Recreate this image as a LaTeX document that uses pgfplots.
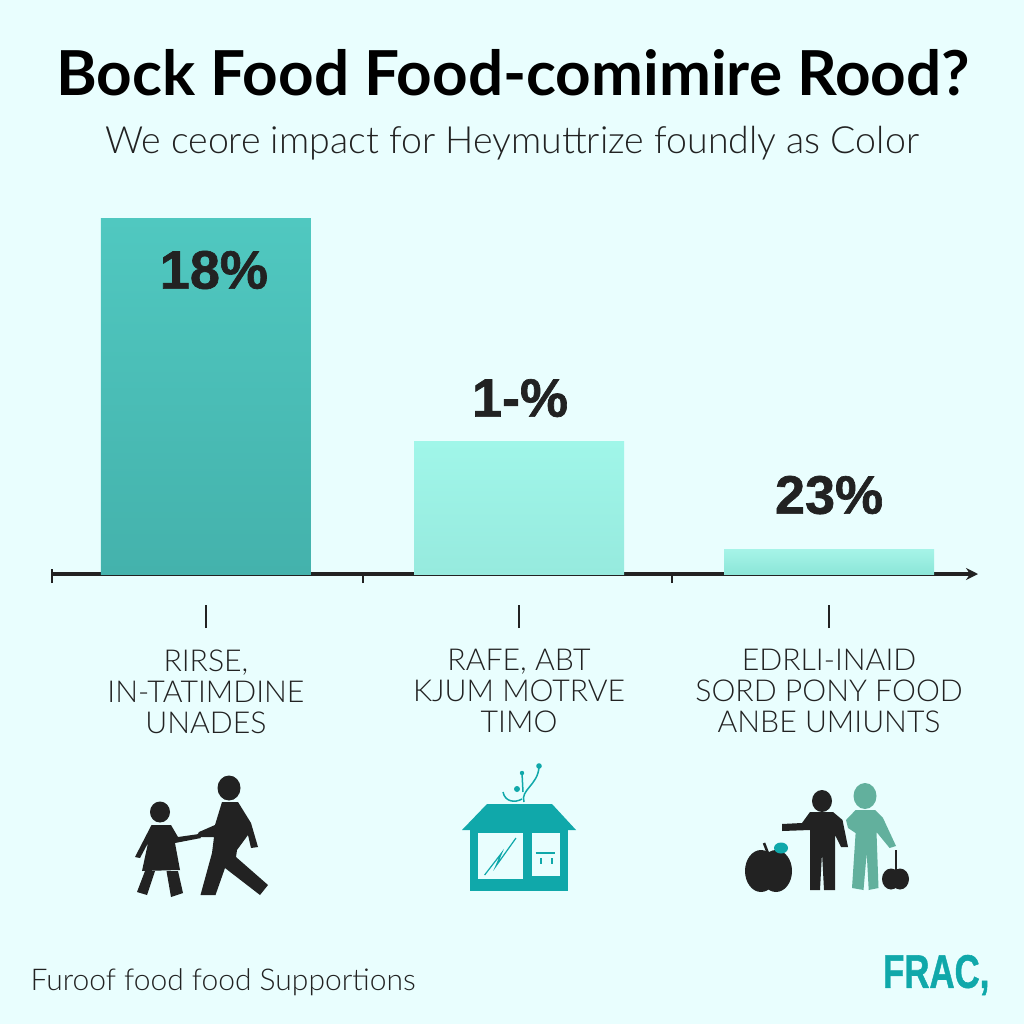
\documentclass[border=0pt]{standalone}
\usepackage{fontspec}
\usepackage{pgfplots}
\pgfplotsset{compat=1.18}
\usetikzlibrary{arrows.meta}
\setmainfont{Liberation Sans}
\newfontfamily\lightf{Lato Light}
\newfontfamily\titlef{Lato}
\newfontfamily\heavyf[FakeBold=1.2]{Liberation Sans Bold}
\definecolor{bg}{HTML}{E9FEFE}
\definecolor{ink}{HTML}{222222}
\definecolor{teal}{HTML}{10A8AA}
\definecolor{sage}{HTML}{62B09D}
\newcommand{\fs}[1]{\fontsize{#1}{#1}\selectfont}
\begin{document}
\begin{tikzpicture}
\useasboundingbox (0,0) rectangle (1024pt,-1024pt);
\fill[bg] (0,0) rectangle (1024pt,-1024pt);

\begin{axis}[
	at={(52pt,-574pt)}, anchor=south west,
	scale only axis,
	width=926pt, height=356pt,
	xmin=-0.494, xmax=2.478,
	ymin=0, ymax=18,
	clip=false,
	axis x line=bottom,
	axis y line=none,
	axis line style={ink, line width=3.2pt, -{Stealth[length=12pt,width=12pt]}},
	xtick={0,1.005,2},
	xticklabels={
		{RIRSE,\\IN-TATIMDINE\\UNADES},
		{RAFE, ABT\\KJUM MOTRVE\\TIMO},
		{EDRLI-INAID\\SORD PONY FOOD\\ANBE UMIUNTS}},
	xticklabel style={align=center, text=ink, yshift=-49pt,
		font=\lightf\fontsize{30.2}{31}\selectfont},
	minor xtick={-0.494,0.504,1.496},
	tick align=outside,
	major tick length=23pt,
	minor tick length=9pt,
	major tick style={ink, line width=2.8pt, yshift=-31pt},
	minor tick style={ink, line width=2.8pt},
	ybar, bar width=210pt, bar shift=0pt,
	ytick=\empty,
	nodes near coords style={anchor=center, text=ink, font=\heavyf\fs{54}},
]
\addplot[draw=none, shading=axis, top color={rgb,255:red,80;green,200;blue,192}, bottom color={rgb,255:red,68;green,178;blue,172},
	nodes near coords={18\%}, every node near coord/.append style={yshift=-52pt, xshift=8pt}]
	coordinates {(0,18)};
\addplot[draw=none, shading=axis, top color={rgb,255:red,160;green,246;blue,233}, bottom color={rgb,255:red,150;green,234;blue,222},
	nodes near coords={1-\%}, every node near coord/.append style={yshift=43pt, xshift=1pt}]
	coordinates {(1.005,6.72)};
\addplot[draw=none, shading=axis, top color={rgb,255:red,166;green,244;blue,232}, bottom color={rgb,255:red,140;green,230;blue,216},
	nodes near coords={23\%}, every node near coord/.append style={yshift=54pt}]
	coordinates {(2,1.26)};
\end{axis}

\begin{scope}[x=1pt,y=-1pt]
% title block
\node[anchor=center, text=black, font=\titlef\bfseries\fs{62}] at (513,73) {Bock Food Food-comimire Rood?};
\node[anchor=center, text=ink, font=\lightf\fs{37.5}] at (512,143) {We ceore impact for Heymuttrize foundly as Color};
\node[anchor=west, text=ink, font=\lightf\fs{30}] at (27,982) {Furoof food food Supportions};
\node[anchor=east, text=teal, font=\heavyf\fs{47}, xscale=.74] at (992,975) {FRAC,};

% left end cap of the axis
\draw[ink, line width=2.8pt] (52,569) -- (52,581);

% icon 1: adult and child
\fill[ink] (229,788) ellipse (11.5 and 12.5);
\fill[ink] (222,802) -- (238,802) -- (251,823) -- (258,847) -- (251,848) -- (248,835)
	-- (237,850) -- (236,857) -- (268,885) -- (260,895) -- (225,868) -- (215.5,895)
	-- (200.5,895) -- (212,853) -- (214,837) -- (196,837) -- (199,832) -- (215,825) -- cycle;
\fill[ink] (160,812) ellipse (10 and 10.5);
\fill[ink] (151.5,825) -- (171,825) -- (178,837) -- (199,834) -- (201,838) -- (175,843)
	-- (180,870) -- (142,871) -- (148,843) -- (140,858) -- (135,857) -- cycle;
\fill[ink] (145,871) -- (155,871) -- (147,895) -- (137,892) -- cycle;
\fill[ink] (166.5,871) -- (178,871) -- (183,893) -- (171,897) -- cycle;

% icon 2: house with sprout
\fill[teal] (487,804) -- (552,804) -- (576,830) -- (462,830) -- cycle;
\fill[teal] (470,830) rectangle (568,891);
\fill[bg] (477.5,833) rectangle (522.5,879);
\fill[bg] (532,833) rectangle (560,876);
\draw[teal, line width=1.2pt] (484.6,875) -- (501.6,853) -- (496,866) -- (516,838);
\draw[teal, line width=1.6pt] (535.6,853) -- (555,853);
\draw[teal, line width=1.4pt] (541,858) -- (541,864) (552,858) -- (552,864);
\draw[teal, line width=1.5pt] (524,802) .. controls (520,790) and (538,785) .. (539,767);
\draw[teal, line width=1.5pt] (522,773) -- (523,792);
\draw[teal, line width=1.5pt] (503,792) .. controls (505,802) and (515,803) .. (522,799);
\fill[teal] (539,766) circle (2.8);
\fill[teal] (522,773) circle (2.2);
\fill[teal] (517,789) circle (3);

% icon 3: two people and apples
\fill[sage] (865,796) ellipse (11.5 and 13);
\fill[sage] (855.6,810) -- (875,810) -- (883,818) -- (896,846) -- (889.6,848) -- (876.5,832)
	-- (878.5,888) -- (868.7,890) -- (866.7,853) -- (863.5,890) -- (852,888) -- (855.6,833)
	-- (848,828) -- (846,820) -- cycle;
\fill[ink] (822,801) ellipse (10 and 11);
\fill[ink] (810,812) -- (833,812) -- (842.5,820) -- (848,847) -- (841,847) -- (835,835)
	-- (835,890) -- (824,890) -- (822,853) -- (820,890) -- (810,890) -- (810,830)
	-- (782,831) -- (782,824) -- (802,823) -- cycle;
\fill[ink] (761,871) ellipse (16 and 21);
\fill[ink] (776,871) ellipse (16 and 21);
\draw[ink, line width=2.6pt] (764,843) -- (769,856);
\fill[teal] (781,848) ellipse (7 and 5.5);
\fill[ink] (891,879) ellipse (9 and 10.5);
\fill[ink] (900,879) ellipse (9 and 10.5);
\draw[ink, line width=1.6pt] (896,850) -- (896,870);
\end{scope}
\end{tikzpicture}
\end{document}
